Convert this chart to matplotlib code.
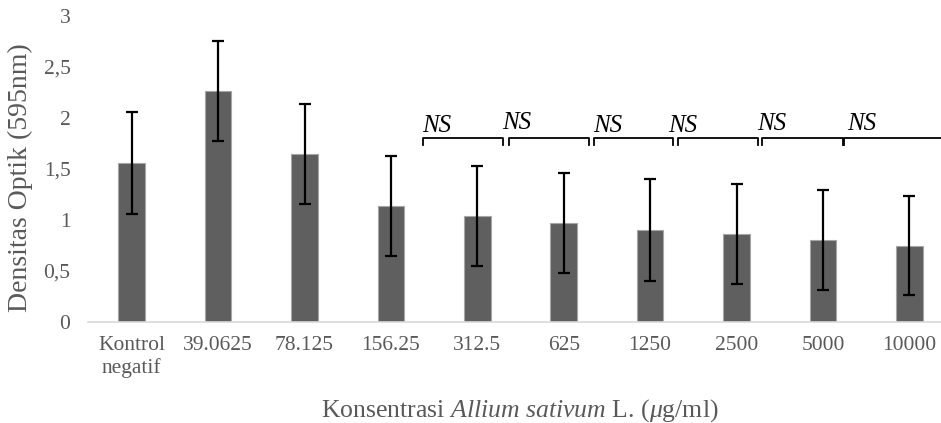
import matplotlib
matplotlib.use("Agg")
import matplotlib.pyplot as plt
from matplotlib.ticker import FuncFormatter

# ---- data ----
categories = ["Kontrol\nnegatif", "39.0625", "78.125", "156.25", "312.5",
              "625", "1250", "2500", "5000", "10000"]
values = [1.56, 2.26, 1.65, 1.14, 1.04, 0.97, 0.90, 0.86, 0.80, 0.75]
errors = [0.50, 0.49, 0.49, 0.49, 0.49, 0.49, 0.50, 0.49, 0.49, 0.49]
ns_label = "NS"

# ---- layout constants for the NS annotations ----
bracket_starts = [3.37, 4.37, 5.35, 6.32, 7.29, 8.24]
bracket_ends = [4.30, 5.29, 6.26, 7.25, 8.23, 9.6]
ns_text_x = [3.36, 4.29, 5.34, 6.21, 7.24, 8.28]
ns_text_y = [1.815, 1.84, 1.815, 1.815, 1.83, 1.83]
bracket_y = 1.80
bracket_drop = 0.065

plt.rcParams['font.family'] = ['Liberation Serif', 'DejaVu Serif']
plt.rcParams['mathtext.fontset'] = 'custom'
plt.rcParams['mathtext.rm'] = 'Liberation Serif'
plt.rcParams['mathtext.it'] = 'Liberation Serif:italic'

text_color = "#595959"

fig = plt.figure(figsize=(9.41, 4.23), dpi=100)
ax = fig.add_axes([88.5 / 941, 1 - 322 / 423, 864 / 941, 306 / 423])

x = list(range(len(categories)))
ax.bar(x, values, width=0.31, color="#5f5f5f", edgecolor="#a6a6a6",
       linewidth=0.8, zorder=2)
ax.errorbar(x, values, yerr=errors, fmt="none", ecolor="black",
            elinewidth=1.6, capsize=4.3, capthick=1.6, zorder=3)

ax.set_xlim(-0.5, 9.5)
ax.set_ylim(0, 3)
ax.set_yticks([0, 0.5, 1, 1.5, 2, 2.5, 3])
ax.yaxis.set_major_formatter(FuncFormatter(lambda v, p: ("%g" % v).replace(".", ",")))
ax.set_xticks(x)
ax.set_xticklabels(categories, linespacing=1.2)
ax.tick_params(axis="both", length=0, labelsize=15.5, labelcolor=text_color)
ax.tick_params(axis="y", pad=13)
ax.tick_params(axis="x", pad=10)

for s in ["top", "right", "left"]:
    ax.spines[s].set_visible(False)
ax.spines["bottom"].set_color("#d9d9d9")
ax.spines["bottom"].set_linewidth(1.2)

fig.text(20 / 941, 1 - 178 / 423, "Densitas Optik (595nm)", fontsize=20,
         color=text_color, rotation=90, ha="center", va="center")
fig.text(520 / 941, 1 - 417 / 423,
         r"Konsentrasi $\mathit{Allium\ sativum}$ L. ($\mathit{\mu}$g/ml)",
         fontsize=18.5, color=text_color, ha="center", va="baseline")

for xs, xe in zip(bracket_starts, bracket_ends):
    ax.plot([xs, xs, xe, xe], [bracket_y - bracket_drop, bracket_y, bracket_y,
                               bracket_y - bracket_drop],
            color="black", linewidth=1.3, clip_on=False, zorder=4)
for tx, ty in zip(ns_text_x, ns_text_y):
    ax.text(tx, ty, ns_label, fontsize=18, style="italic", color="black",
            ha="left", va="bottom")

fig.savefig("out.png", dpi=100)
